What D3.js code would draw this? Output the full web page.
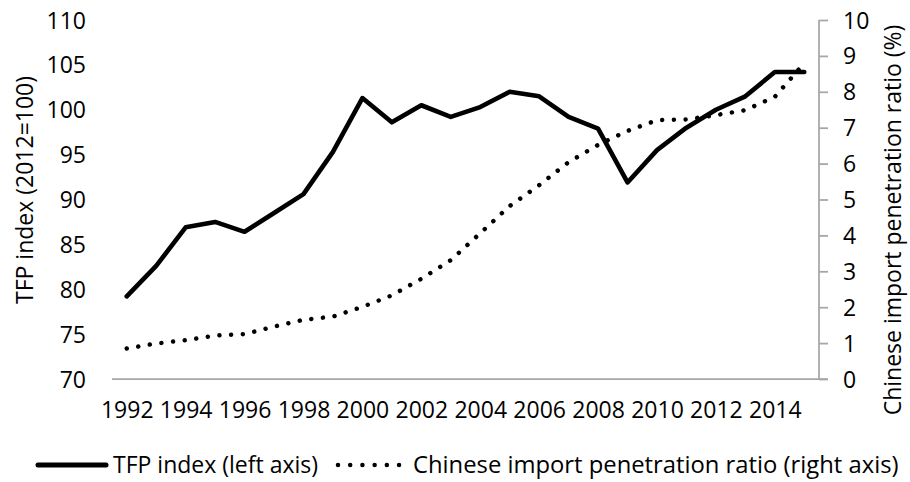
<!DOCTYPE html>
<html>
<head>
<meta charset="utf-8">
<script src="https://cdn.jsdelivr.net/npm/d3@7"></script>
<style>
  html, body { margin: 0; padding: 0; background: #fff; }
  svg { display: block; font-family: "Open Sans", sans-serif; }
</style>
</head>
<body>
<svg id="chart" width="910" height="482"></svg>
<script>
// ---- data ----
const years = [1992,1993,1994,1995,1996,1997,1998,1999,2000,2001,2002,2003,
               2004,2005,2006,2007,2008,2009,2010,2011,2012,2013,2014,2015];
const tfpIndex = [79.2,82.6,86.9,87.5,86.4,88.5,90.6,95.3,101.3,98.6,100.5,99.2,
                  100.3,102.0,101.5,99.2,97.9,91.9,95.5,98.0,100.0,101.5,104.2,104.2];
const importRatio = [0.85,0.99,1.08,1.21,1.25,1.46,1.65,1.74,2.01,2.33,2.79,3.31,
                     4.06,4.82,5.40,6.04,6.52,6.91,7.21,7.23,7.35,7.49,7.86,8.8];
const xTickLabels = [1992,1994,1996,1998,2000,2002,2004,2006,2008,2010,2012,2014];
const leftTicks = [70,75,80,85,90,95,100,105,110];
const rightTicks = [0,1,2,3,4,5,6,7,8,9,10];
const leftTitle = "TFP index (2012=100)";
const rightTitle = "Chinese import penetration ratio (%)";
const legendLabels = ["TFP index (left axis)", "Chinese import penetration ratio (right axis)"];

// ---- layout ----
const svg = d3.select("#chart");
const plot = {left: 112, right: 819, top: 20, bottom: 379};
const axisColor = "#a6a6a6";
const fontSize = 23;

const x = d3.scalePoint().domain(years).range([plot.left, plot.right]).padding(0.5);
const yL = d3.scaleLinear().domain([70,110]).range([plot.bottom, plot.top]);
const yR = d3.scaleLinear().domain([0,10]).range([plot.bottom, plot.top]);

// bottom axis (category axis, no ticks)
const xAxis = d3.axisBottom(x).tickValues(xTickLabels).tickSize(0).tickPadding(22);
const gx = svg.append("g").attr("transform", `translate(0,${plot.bottom})`).call(xAxis);
gx.select(".domain").remove();
gx.selectAll("text").attr("font-size", fontSize).attr("fill", "#000")
  .attr("font-family", "Open Sans, sans-serif").attr("dy", "0.35em").attr("y", 31);
svg.append("line").attr("x1", plot.left).attr("x2", plot.right + 9)
  .attr("y1", plot.bottom).attr("y2", plot.bottom)
  .attr("stroke", axisColor).attr("stroke-width", 1.75);

// left axis (labels only)
const yAxisL = d3.axisLeft(yL).tickValues(leftTicks).tickSize(0).tickPadding(0);
const gl = svg.append("g").attr("transform", `translate(86,0)`).call(yAxisL);
gl.select(".domain").remove();
gl.selectAll("text").attr("font-size", fontSize).attr("fill", "#000")
  .attr("font-family", "Open Sans, sans-serif").attr("x", 0).attr("dy", "0.35em");

// right axis
const yAxisR = d3.axisRight(yR).tickValues(rightTicks).tickSize(9).tickPadding(14);
const gr = svg.append("g").attr("transform", `translate(${plot.right},0)`).call(yAxisR);
gr.select(".domain").attr("d", `M0,${plot.top}V${plot.bottom}`)
  .attr("stroke", axisColor).attr("stroke-width", 1.75);
gr.selectAll(".tick line").attr("stroke", axisColor).attr("stroke-width", 1.75);
gr.selectAll("text").attr("font-size", fontSize).attr("fill", "#000")
  .attr("font-family", "Open Sans, sans-serif").attr("x", 24).attr("dy", "0.35em");

// axis titles
svg.append("text").attr("transform", `translate(25,190) rotate(-90)`)
  .attr("text-anchor", "middle").attr("dy", "0.35em")
  .attr("font-size", fontSize).attr("fill", "#000").text(leftTitle);
svg.append("text").attr("transform", `translate(893,220) rotate(-90)`)
  .attr("text-anchor", "middle").attr("dy", "0.35em")
  .attr("font-size", fontSize).attr("fill", "#000").text(rightTitle);

// lines
const lineL = d3.line().x((d,i) => x(years[i])).y(d => yL(d));
const lineR = d3.line().x((d,i) => x(years[i])).y(d => yR(d));

svg.append("path").datum(importRatio).attr("d", lineR)
  .attr("fill", "none").attr("stroke", "#000").attr("stroke-width", 4.5)
  .attr("stroke-linecap", "round").attr("stroke-dasharray", "0.01,11.7");

svg.append("path").datum(tfpIndex).attr("d", lineL)
  .attr("fill", "none").attr("stroke", "#000").attr("stroke-width", 4.6)
  .attr("stroke-linejoin", "round").attr("stroke-linecap", "round");

// legend
const ly = 465;
svg.append("line").attr("x1", 38).attr("x2", 106).attr("y1", ly).attr("y2", ly)
  .attr("stroke", "#000").attr("stroke-width", 5).attr("stroke-linecap", "round");
svg.append("text").attr("x", 113).attr("y", ly).attr("dy", "0.35em")
  .attr("font-size", fontSize).attr("fill", "#000").text(legendLabels[0]);
svg.append("line").attr("x1", 338).attr("x2", 400).attr("y1", ly).attr("y2", ly)
  .attr("stroke", "#000").attr("stroke-width", 4.5).attr("stroke-linecap", "round")
  .attr("stroke-dasharray", "0.01,12.2");
svg.append("text").attr("x", 413).attr("y", ly).attr("dy", "0.35em")
  .attr("font-size", 23.8).attr("fill", "#000").text(legendLabels[1]);
</script>
</body>
</html>
